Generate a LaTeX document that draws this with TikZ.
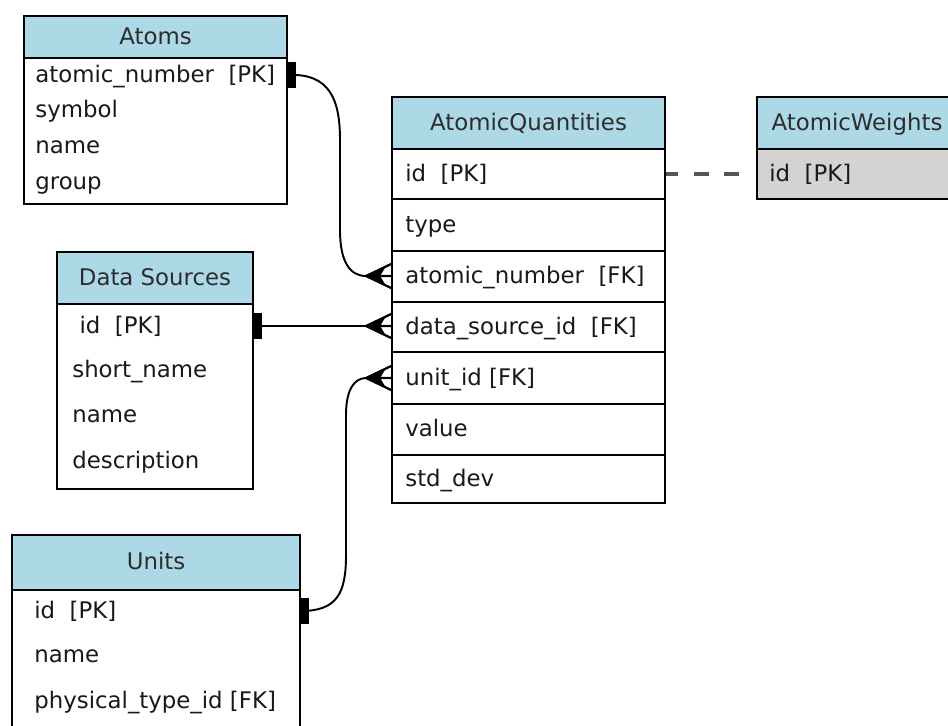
\documentclass[tikz,border=0pt]{standalone}
\usepackage{fontspec}
\setmainfont{DejaVu Sans}
\usetikzlibrary{fit,calc}

\definecolor{hdrblue}{RGB}{173,216,230}
\definecolor{keygrey}{RGB}{211,211,211}
\definecolor{txtgrey}{RGB}{45,45,45}
\definecolor{dashgrey}{RGB}{85,85,85}

\tikzset{
  tblhead/.style={draw, fill=hdrblue, inner sep=0pt, line width=1pt,
    label={[text=txtgrey, text height=10.5pt, text depth=2.5pt]center:#1}},
  tblbody/.style={draw, fill=white, inner sep=0pt, line width=1pt},
  field/.style={anchor=west, inner sep=0pt, text=black!90, text height=10.5pt, text depth=2.5pt},
  link/.style={line width=1.1pt},
  pics/onebar/.style={code={\fill (0,-13) rectangle (8,13);}},
  pics/crowfoot/.style={code={
    \draw[line width=1.3pt] (0,-12) -- (-25,0) -- (0,12) (-25,0) -- (0,0);
    \fill (-27,0) -- (-5,-10) -- (-11,0) -- (-5,10) -- cycle;}}
}

\begin{document}
\begin{tikzpicture}[x=0.02cm, y=-0.02cm, font=\fontsize{13}{15}\selectfont]
  \clip (0,0) rectangle (948,725);

  % Atoms
  \node[tblbody, fit={(24,58) (287,204)}] (atoms-bd) {};
  \node[tblhead=Atoms, line width=1.6pt, fit={(24,16) (287,58)}] (atoms-hd) {};
  \node[field] (atoms-anum) at (35,75) {atomic\_number\ \ [PK]};
  \node[field] (atoms-sym) at (35,110) {symbol};
  \node[field] (atoms-name) at (35,146) {name};
  \node[field] (atoms-grp) at (35,182) {group};

  % Data Sources
  \node[tblbody, fit={(57,304) (253,489)}] (ds-bd) {};
  \node[tblhead=Data Sources, line width=1.6pt, fit={(57,252) (253,304)}] (ds-hd) {};
  \node[field] (ds-id) at (72,326) {\ id\ \ [PK]};
  \node[field] (ds-short) at (72,370) {short\_name};
  \node[field] (ds-name) at (72,415) {name};
  \node[field] (ds-desc) at (72,461) {description};

  % Units (runs past the bottom edge)
  \node[tblbody, fit={(12,590) (300,745)}] (units-bd) {};
  \node[tblhead=Units, line width=1.6pt, fit={(12,535) (300,590)}] (units-hd) {};
  \node[field] (units-id) at (34,611) {id\ \ [PK]};
  \node[field] (units-name) at (34,655) {name};
  \node[field] (units-ptype) at (34,701) {physical\_type\_id [FK]};

  % AtomicQuantities, one cell per field
  \foreach \ytop/\ybot in {149/199, 199/251, 251/302, 302/352, 352/404, 404/455, 455/503}
    \draw[line width=1pt, fill=white] (392,\ytop) rectangle (665,\ybot);
  \node[tblhead=AtomicQuantities, fit={(392,97) (665,149)}] (aq-hd) {};
  \node[field] (aq-id) at (405,174) {id\ \ [PK]};
  \node[field] (aq-type) at (405,225) {type};
  \node[field] (aq-anum) at (405,276) {atomic\_number\ \ [FK]};
  \node[field] (aq-dsid) at (405,327) {data\_source\_id\ \ [FK]};
  \node[field] (aq-unit) at (405,378) {unit\_id [FK]};
  \node[field] (aq-val) at (405,429) {value};
  \node[field] (aq-std) at (405,479) {std\_dev};

  % AtomicWeights (cut off on the right)
  \node[tblbody, fill=keygrey, fit={(757,149) (957,199)}] (aw-bd) {};
  \node[tblhead=AtomicWeights, fit={(757,97) (957,149)}] (aw-hd) {};
  \node[field] (aw-id) at (769,174) {id\ \ [PK]};

  % Atoms -> AtomicQuantities
  \draw[link] (atoms-bd.east |- atoms-anum) .. controls (330,73) and (340,100) .. (340,140)
    -- (340,230) .. controls (340,262) and (350,276) .. ($(aq-hd.west |- aq-anum)+(-25,0)$);
  \pic at (atoms-bd.east |- atoms-anum) {onebar};
  \pic at (aq-hd.west |- aq-anum) {crowfoot};

  % Data Sources -> AtomicQuantities
  \draw[link] (ds-bd.east |- ds-id) -- (aq-hd.west |- ds-id);
  \pic at (ds-bd.east |- ds-id) {onebar};
  \pic at (aq-hd.west |- ds-id) {crowfoot};

  % Units -> AtomicQuantities
  \draw[link] (units-bd.east |- units-id) .. controls (338,611) and (346,592) .. (346,555)
    -- (346,415) .. controls (346,390) and (354,378) .. ($(aq-hd.west |- aq-unit)+(-25,0)$);
  \pic at (units-bd.east |- units-id) {onebar};
  \pic at (aq-hd.west |- aq-unit) {crowfoot};

  % AtomicQuantities - AtomicWeights
  \draw[dashgrey, line width=1.8pt, dash pattern=on 8.5pt off 9pt, dash phase=1.7pt, shorten >=9pt]
    (aq-hd.east |- aq-id) -- (aw-hd.west |- aw-id);
\end{tikzpicture}
\end{document}
